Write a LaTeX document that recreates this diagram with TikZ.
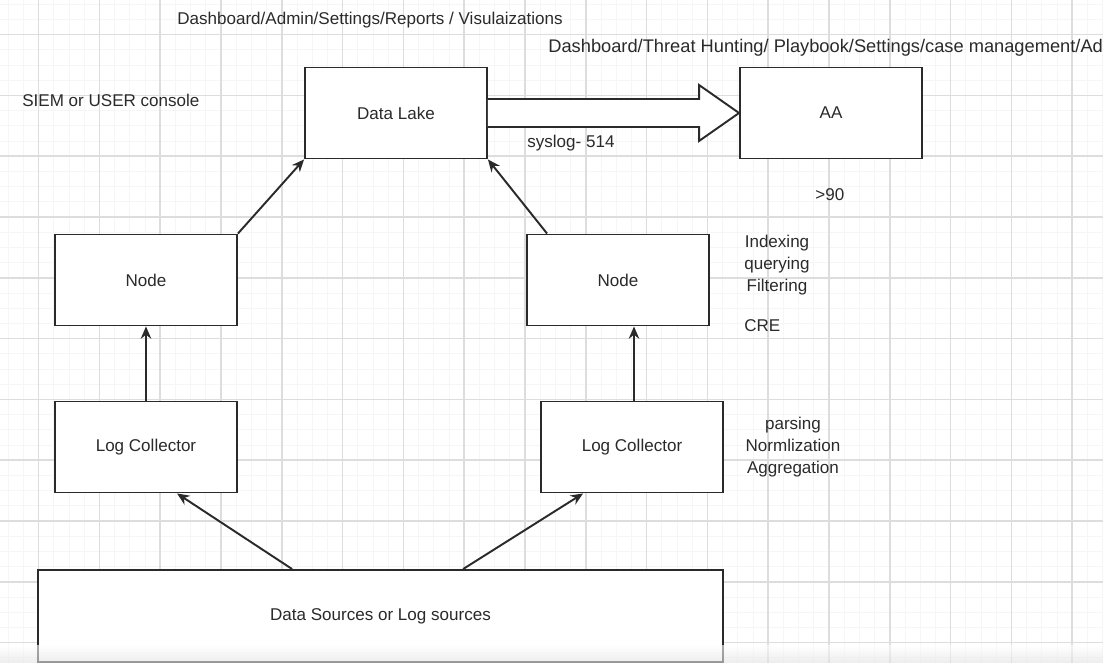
\documentclass[tikz,border=0pt]{standalone}
\usepackage{fontspec}
\setmainfont{Liberation Sans}
\usetikzlibrary{arrows.meta, positioning, calc}
\definecolor{gridmajor}{HTML}{DDDDDD}
\definecolor{gridminor}{HTML}{F6F6F6}
\definecolor{ink}{HTML}{2A2A2A}

\begin{document}
\begin{tikzpicture}[x=0.02cm, y=-0.02cm,
    font=\fontsize{9.7}{12.5}\selectfont,
    box/.style={draw=ink, line width=1.1pt, fill=white, text=ink,
                minimum width=3.64cm, minimum height=1.82cm},
    txt/.style={text=ink, inner sep=0pt},
    flow/.style={draw=ink, line width=1.1pt, -{Stealth[length=7pt, width=6pt]}}]
    \useasboundingbox (0,0) rectangle (1103,663);
    \clip (0,0) rectangle (1103,663);

    % grid
    \foreach \k in {-2,...,70}
        \draw[gridminor, line width=0.4pt] (38.6+\k*15.2,0) -- ++(0,663);
    \foreach \k in {-2,...,42}
        \draw[gridminor, line width=0.4pt] (0,34.6+\k*15.2) -- ++(1103,0);
    \foreach \k in {0,...,17}
        \draw[gridmajor, line width=1pt] (38.6+\k*60.8,0) -- ++(0,663);
    \foreach \k in {0,...,10}
        \draw[gridmajor, line width=1pt] (0,34.6+\k*60.8) -- ++(1103,0);

    % boxes
    \node (lake) [box] at (396,113) {Data Lake};
    \node (aa) [box] at (831,113) {AA};
    \node (nodeL) [box] at (146,280) {Node};
    \node (nodeR) [box] at (618,280) {Node};
    \node (collL) [box] at (146,447) {Log Collector};
    \node (collR) [box] at (632,447) {Log Collector};
    \node (sources) [box, minimum width=13.7cm, minimum height=1.84cm] at (380.5,616) {Data Sources or Log sources};

    % free text
    \node (tabsSiem) [txt, anchor=west] at (177,20) {Dashboard/Admin/Settings/Reports / Visulaizations};
    \node (tabsAA) [txt, anchor=west, font=\fontsize{10.4}{12.5}\selectfont] at (548,48) {Dashboard/Threat Hunting/ Playbook/Settings/case management/Ad};
    \node (console) [txt, anchor=west] at (22,100) {SIEM or USER console};
    \node (syslog) [txt, anchor=west] at (527,143) {syslog- 514};
    \node (eps) [txt, anchor=west] at (815,195) {>90};
    \node (nodeJobs) [txt, align=center] at (777,265) {Indexing\\querying\\Filtering};
    \node (cre) [txt, anchor=west] at (744,326) {CRE};
    \node (collJobs) [txt, align=center] at (793,447) {parsing\\Normlization\\Aggregation};

    % connectors
    \draw[flow] (nodeL.north east) -- (lake.south west);
    \draw[flow] ($(nodeR.north west)+(21,0)$) -- (lake.south east);
    \draw[flow] (collL) -- (nodeL);
    \draw[flow] ($(collR.north)+(2,0)$) -- ($(collR.north |- nodeR.south)+(2,0)$);
    \draw[flow] ($(sources.north west)+(255,0)$) -- ($(collL.south west)+(123,0)$);
    \draw[flow] ($(sources.north west)+(426,0)$) -- ($(collR.south west)+(43,0)$);

    % hollow arrow to AA
    \draw[draw=ink, line width=1.1pt, fill=white]
        ($(lake.east)+(0,-14)$) -- ($(aa.west)+(-40,-14)$) -- ($(aa.west)+(-40,-28)$)
        -- (aa.west) -- ($(aa.west)+(-40,28)$) -- ($(aa.west)+(-40,14)$) -- ($(lake.east)+(0,14)$);

    % screen edge
    \shade[top color=white, bottom color=black!12, opacity=0.6] (0,645) rectangle (1103,663);
\end{tikzpicture}
\end{document}
